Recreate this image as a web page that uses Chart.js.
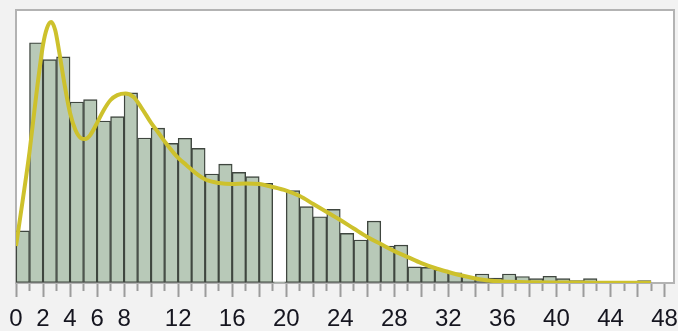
<!DOCTYPE html>
<html><head><meta charset="utf-8">
<script src="https://cdn.jsdelivr.net/npm/chart.js@4/dist/chart.umd.min.js"></script>
<style>html,body{margin:0;padding:0;background:#f2f2f2;}#wrap{position:relative;width:678px;height:331px;}</style>
</head><body><div id="wrap"><canvas id="c"></canvas></div>
<script>
const binStarts = [0,1,2,3,4,5,6,7,8,9,10,11,12,13,14,15,16,17,18,19,20,21,22,23,24,25,26,27,28,29,30,31,32,33,34,35,36,37,38,39,40,41,42,43,44,45,46];
const binCounts = [21.7,100.1,93.1,94.2,75.4,76.4,67.5,69.3,79.2,60.4,64.5,58.2,60.3,56.1,45.4,49.5,46.1,44.3,41.5,0.5,38.5,31.8,27.6,30.7,20.7,17.9,25.8,15.4,15.8,6.7,6.5,5.4,4.2,2.5,3.75,2.0,3.75,2.7,1.8,2.8,1.8,1.0,1.8,0.6,0.6,0.6,1.0];
const curveX = [0,0.5,1.0,1.5,2.0,2.3,2.6,2.9,3.2,3.6,4.0,4.4,4.8,5.1,5.5,6.0,6.5,7.0,7.5,8.1,8.7,9.3,10,10.5,11.2,12,12.6,13.3,14.1,15,16,17,18,19,20,21,22,23,24,25,26,27,28,29,30,31,32,33,34,35,36,38,40,43,47];
const curveY = [15.4,34.6,54.6,78.3,99.2,106.3,108.75,105.4,96.25,82.5,70.8,63.75,60.4,60,61.7,66.7,72.1,76.25,78.3,79,77.5,72.9,66.7,62.9,57.5,52.1,49.2,45.8,42.9,41.7,41.25,41.5,41.25,40,38.5,36.25,32.9,29.6,26.25,22.7,19.2,16.25,13.3,10.8,8.3,6.25,4.6,3.1,1.9,1.0,0.6,0.3,0.2,0.15,0.1];
const tickLabels = [0,2,4,6,8,12,16,20,24,28,32,36,40,44,48];
const xMin = 0, xMax = 48.7, yMax = 113.75;

const borderGray = '#b3b3b3';
const plotBg = {id:'plotBg', beforeDraw(chart){const {ctx, chartArea:a} = chart; ctx.save(); ctx.fillStyle = '#ffffff'; ctx.fillRect(a.left, a.top, a.right - a.left, a.bottom - a.top); ctx.restore();}};

const barPoints = binStarts.map((s, i) => ({x: s + 0.5, y: binCounts[i]}));
const curvePoints = curveX.map((x, i) => ({x: x, y: curveY[i]}));

new Chart(document.getElementById('c'), {
  type: 'bar',
  data: {
    datasets: [
      {type: 'line', data: curvePoints, borderColor: '#cdc12c', borderWidth: 4, pointRadius: 0, fill: false, cubicInterpolationMode: 'monotone', order: 0},
      {type: 'bar', data: barPoints, backgroundColor: '#b8c9b8', borderColor: '#3f463f', borderWidth: 1.4, borderSkipped: false, barPercentage: 1, categoryPercentage: 1, grouped: false, order: 1}
    ]
  },
  options: {
    responsive: true, maintainAspectRatio: false, animation: false, devicePixelRatio: 1,
    layout: {padding: {left: 16, top: 10, right: 4, bottom: 0}},
    plugins: {legend: {display: false}, tooltip: {enabled: false}},
    scales: {
      x: {type: 'linear', position: 'bottom', min: xMin, max: xMax, offset: false,
        grid: {display: true, drawOnChartArea: false, drawTicks: true, offset: false, tickLength: 14, tickColor: '#9c9c9c', tickWidth: 2,
          tickBorderDash: (ctx) => (ctx.tick && Math.round(ctx.tick.value) % 2 === 1) ? [7, 100] : []},
        border: {display: true, color: borderGray, width: 2},
        ticks: {stepSize: 1, includeBounds: false, autoSkip: false, maxRotation: 0, minRotation: 0, padding: 8,
          color: '#15151f', font: {family: 'Liberation Sans', size: 24},
          callback: (v) => tickLabels.includes(v) ? String(v) : ''},
        afterFit: (s) => {s.height = 48; s.paddingLeft = 0; s.paddingRight = 0;}
      },
      x2: {type: 'linear', position: 'top', min: xMin, max: xMax, grid: {drawOnChartArea: false, drawTicks: false}, ticks: {display: false}, border: {display: true, color: borderGray, width: 2}, afterFit: (s) => {s.height = 0; s.paddingLeft = 0; s.paddingRight = 0;}},
      y: {min: 0, max: yMax, position: 'left', grid: {drawOnChartArea: false, drawTicks: false}, ticks: {display: false}, border: {display: true, color: borderGray, width: 2}, afterFit: (s) => {s.width = 0;}},
      y2: {min: 0, max: yMax, position: 'right', grid: {drawOnChartArea: false, drawTicks: false}, ticks: {display: false}, border: {display: true, color: borderGray, width: 2}, afterFit: (s) => {s.width = 0;}}
    }
  },
  plugins: [plotBg]
});
</script></body></html>
